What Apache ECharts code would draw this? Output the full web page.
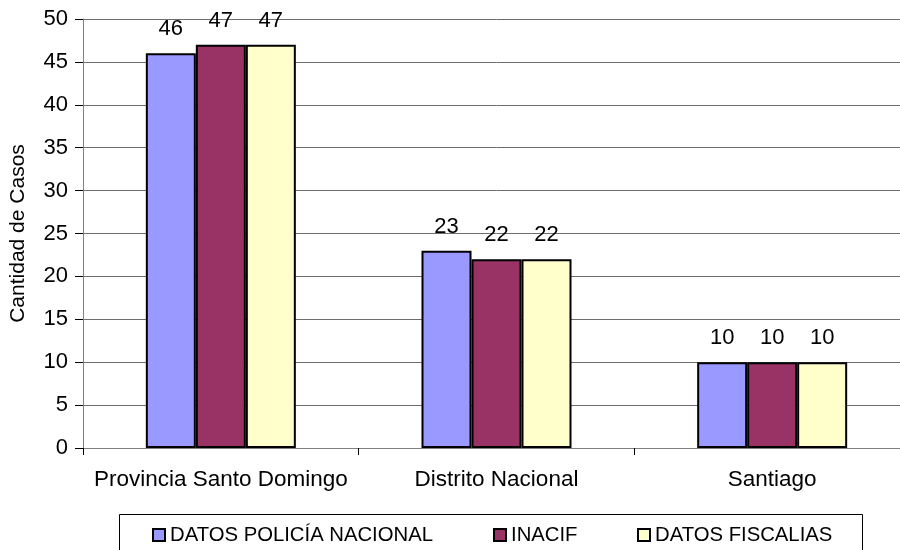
<!DOCTYPE html>
<html><head><meta charset="utf-8">
<script src="https://cdn.jsdelivr.net/npm/echarts@6/dist/echarts.min.js"></script>
<style>html,body{margin:0;padding:0;background:#fff;overflow:hidden;width:900px;height:550px}#c{width:910px;height:550px}</style>
</head><body><div id="c"></div>
<script>
const categories = ['Provincia Santo Domingo', 'Distrito Nacional', 'Santiago'];
const seriesNames = ['DATOS POLICÍA NACIONAL', 'INACIF', 'DATOS FISCALIAS'];
const policia = [46, 23, 10];
const inacif = [47, 22, 10];
const fiscalias = [47, 22, 10];
const yTicks = [0, 5, 10, 15, 20, 25, 30, 35, 40, 45, 50];
const colors = ['#9999FF', '#993366', '#FFFFCC'];
const values = [policia, inacif, fiscalias];
const FONT = '"Liberation Sans", Arial, sans-serif';

const chart = echarts.init(document.getElementById('c'));
const legendLefts = [152, 493, 637];
chart.setOption({
  animation: false,
  textStyle: { fontFamily: FONT, color: '#000' },
  grid: { left: 83, right: 0, top: 19, height: 429, containLabel: false },
  xAxis: {
    type: 'category', data: categories,
    axisLine: { lineStyle: { color: '#808080', width: 1 } },
    axisTick: { show: true, length: 7, interval: 0, lineStyle: { color: '#000' } },
    axisLabel: { fontSize: 22.5, color: '#000', fontFamily: FONT, margin: 20, interval: 0 }
  },
  yAxis: {
    type: 'value', min: 0, max: 50, interval: 5,
    name: 'Cantidad de Casos', nameLocation: 'middle', nameGap: 54, nameRotate: 90,
    nameTextStyle: { fontSize: 21, color: '#000', fontFamily: FONT },
    axisLine: { show: true, lineStyle: { color: '#808080', width: 1 } },
    axisTick: { show: true, length: 8, lineStyle: { color: '#000' } },
    axisLabel: { fontSize: 22, color: '#000', fontFamily: FONT, margin: 15,
      formatter: v => yTicks.includes(v) ? String(v) : '' },
    splitLine: { show: true, lineStyle: { color: '#6e6e6e', width: 1 } }
  },
  legend: seriesNames.map((n, i) => ({
    data: [n], left: legendLefts[i], top: 525, padding: 0,
    itemWidth: 12, itemHeight: 12, icon: 'rect',
    textStyle: { fontSize: 20.3, color: '#000', fontFamily: FONT },
    itemStyle: { borderColor: '#000', borderWidth: 2 }
  })),
  graphic: [{
    type: 'rect', shape: { x: 119.5, y: 514.5, width: 743, height: 60 },
    style: { fill: 'none', stroke: '#000', lineWidth: 1 }, z: -1
  }],
  series: seriesNames.map((n, i) => ({
    name: n, type: 'bar', data: values[i],
    barWidth: 50, barGap: '0%',
    itemStyle: { color: colors[i], borderColor: '#000', borderWidth: 2 },
    label: { show: true, position: 'top', distance: 13, fontSize: 22, color: '#000', fontFamily: FONT }
  }))
});
</script></body></html>
